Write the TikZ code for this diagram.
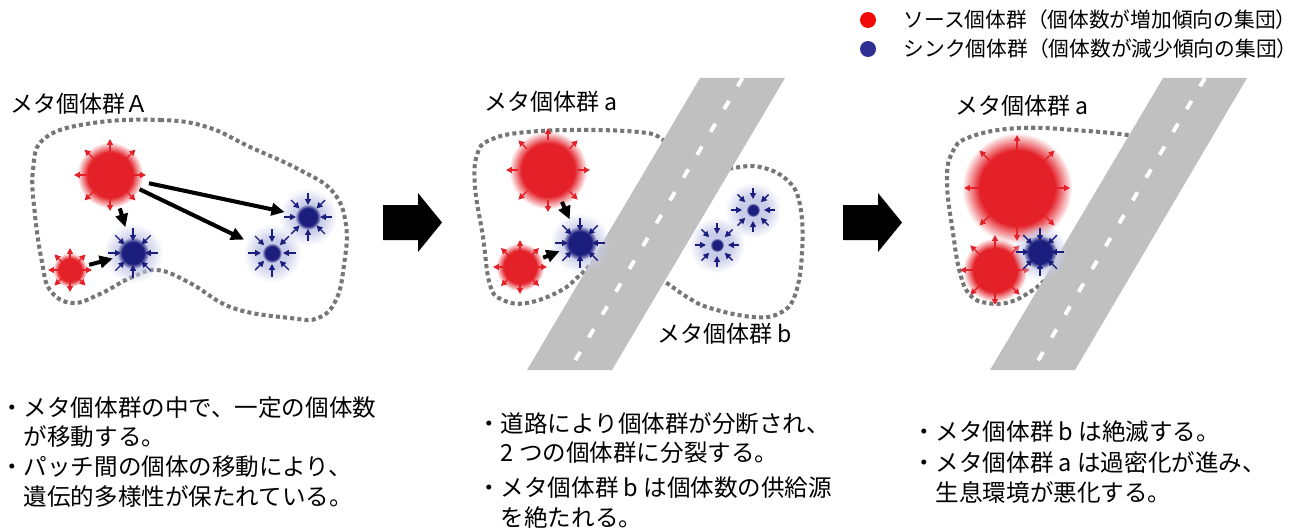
\documentclass[tikz,border=0pt]{standalone}
\usepackage{fontspec}
\setmainfont{Noto Sans CJK JP}
\usepackage{xcolor}
\usepackage{tikz}
\usetikzlibrary{arrows.meta,positioning,calc,fadings}

\definecolor{srcred}{RGB}{228,32,40}
\definecolor{sinkblue}{RGB}{28,30,125}
\definecolor{sinkhalo}{RGB}{200,204,232}
\definecolor{roadgray}{RGB}{192,192,192}
\definecolor{patchgray}{RGB}{118,118,118}
\definecolor{legendred}{RGB}{240,10,10}
\definecolor{legendblue}{RGB}{48,48,148}

% soft edges for the populations (white = opaque, black = clear)
\pgfdeclareradialshading{softdisc}{\pgfpointorigin}{color(0bp)=(white); color(17bp)=(white); color(25bp)=(black); color(50bp)=(black)}
\pgfdeclarefading{softdisc}{\pgfuseshading{softdisc}}
\pgfdeclareradialshading{softhalo}{\pgfpointorigin}{color(0bp)=(white); color(12bp)=(white); color(25bp)=(black); color(50bp)=(black)}
\pgfdeclarefading{softhalo}{\pgfuseshading{softhalo}}

\tikzset{
  patch/.style={draw=patchgray, line width=2.3pt, dash pattern=on 2.3pt off 1.8pt},
  road/.style={fill=roadgray},
  lane/.style={draw=white, line width=2.2pt, dash pattern=on 5.5pt off 9.6pt},
  srcarrow/.style={draw=srcred, line width=0.8pt, -{Triangle[length=3.4pt,width=3.4pt]}},
  sinkarrow/.style={draw=sinkblue, line width=0.8pt, -{Triangle[length=3.4pt,width=3.4pt]}},
  move/.style={draw=black, line width=2.3pt, -{Triangle[length=7.5pt,width=7pt]}},
  hub/.style={circle, inner sep=0pt, draw=none},
  grouplabel/.style={inner sep=0pt, anchor=west, font=\fontsize{13.1pt}{15pt}\selectfont},
  memo/.style={inner sep=0pt, anchor=north west, align=left, font=\fontsize{13.4pt}{16.9pt}\selectfont},
  legendtext/.style={inner sep=0pt, font=\fontsize{11.8pt}{14pt}\selectfont},
  legenddot/.style={circle, inner sep=0pt, minimum size=0.32cm},
}

% source: red disc, arrows pointing out
\newcommand{\SourcePatch}[5]{%
  \node[hub, minimum size={0.04cm*#5}] (#1) at #2 {};
  \fill[srcred, path fading=softdisc] (#1.center) circle (#3);
  \foreach \a in {0,45,...,315}
    \draw[srcarrow] ($(#1.center)+(\a:#4)$) -- ($(#1.center)+(\a:#5)$);
}
% sink: blue core with halo, arrows pointing in
\newcommand{\SinkPatch}[6]{%
  \node[hub, minimum size={0.04cm*#5}] (#1) at #2 {};
  \fill[sinkhalo, path fading=softhalo] (#1.center) circle (#4);
  \fill[sinkblue, path fading=softdisc] (#1.center) circle (#3);
  \foreach \a in {0,45,...,315}
    \draw[sinkarrow] ($(#1.center)+(\a:#5)$) -- ($(#1.center)+(\a:#6)$);
}

\begin{document}
\begin{tikzpicture}[x=0.02cm, y=-0.02cm]
  \useasboundingbox (0,0) rectangle (1310,527);

  % legend
  \node[legenddot, fill=legendred] (dotsrc) at (868,20) {};
  \node[legenddot, fill=legendblue] (dotsink) at (868,49) {};
  \node[legendtext, right=0.54cm of dotsrc] (legsrc) {ソース個体群（個体数が増加傾向の集団）};
  \node[legendtext, right=0.54cm of dotsink] (legsink) {シンク個体群（個体数が減少傾向の集団）};

  % patch outlines
  \draw[patch] plot[smooth cycle, tension=0.7] coordinates {(93,123) (160,120) (207,127) (250,147) (300,170) (333,192) (346,225) (344,265) (336,300) (318,318) (290,318) (233,308) (190,283) (157,270) (130,278) (100,294) (72,303) (50,290) (42,262) (35,215) (33,170) (45,138)};
  \draw[patch] plot[smooth, tension=0.7] coordinates {(685,150) (663,140) (647,133) (593,130) (527,132) (490,140) (477,155) (475,187) (483,237) (490,285) (503,300) (527,303) (560,291) (580,275) (600,255)};
  \draw[patch] plot[smooth, tension=0.7] coordinates {(715,172) (733,168) (760,167) (787,180) (800,205) (802,253) (795,295) (780,313) (753,317) (710,308) (687,297) (665,282) (645,272)};
  \draw[patch] plot[smooth, tension=0.7] coordinates {(1150,138) (1128,135) (1087,131) (1020,128) (970,137) (952,153) (947,183) (953,233) (960,273) (970,295) (987,303) (1010,302) (1033,290) (1045,280) (1060,268)};

  % roads
  \fill[road] (700,78) -- (785,78) -- (612,370) -- (527,370) -- cycle;
  \draw[lane] (742.5,78) -- (569.5,370);
  \fill[road] (1163,78) -- (1247,78) -- (1075,370) -- (990,370) -- cycle;
  \draw[lane] (1205,78) -- (1032.5,370);

  % stage arrows
  \foreach \x in {383,843}
    \fill (\x,205) -- ++(35,0) -- ++(0,-12) -- ++(24,29.5) -- ++(-24,29.5) -- ++(0,-12) -- ++(-35,0) -- cycle;

  % metapopulation A
  \SourcePatch{srcA1}{(110,175)}{33}{23}{36}
  \SourcePatch{srcA2}{(70,270)}{17}{9}{22}
  \SinkPatch{sinkA1}{(133,253)}{16}{30}{25}{12}
  \SinkPatch{sinkA2}{(272,253)}{10}{29}{24}{11}
  \SinkPatch{sinkA3}{(308,217)}{13}{29}{24}{12}
  \draw[move, shorten <=19.8pt, shorten >=15.3pt] (srcA1.center) -- (sinkA1.center);
  \draw[move, shorten <=11.3pt, shorten >=11.9pt] (srcA2.center) -- (sinkA1.center);
  \draw[move, shorten <=22.7pt, shorten >=13.6pt] (srcA1.center) -- (sinkA3.center);
  \draw[move, shorten <=18.7pt, shorten >=17.6pt] (srcA1.center) -- (sinkA2.center);

  % split by the road
  \SourcePatch{srcB1}{(548,170)}{39}{30}{42}
  \SourcePatch{srcB2}{(520,267)}{24}{15}{27}
  \SinkPatch{sinkB1}{(580,243)}{17}{30}{25}{12}
  \SinkPatch{sinkB2}{(753,210)}{7}{28}{22}{11}
  \SinkPatch{sinkB3}{(717,245)}{7}{28}{22}{11}
  \draw[move, shorten <=19.8pt, shorten >=14.7pt] (srcB1.center) -- (sinkB1.center);
  \draw[move, shorten <=14.2pt, shorten >=12.5pt] (srcB2.center) -- (sinkB1.center);

  % crowded a
  \SourcePatch{srcC1}{(1017,188)}{55}{37}{53}
  \SourcePatch{srcC2}{(995,270)}{32}{15}{35}
  \SinkPatch{sinkC1}{(1040,252)}{17}{28}{24}{11}

  % labels
  \node[grouplabel] (nameA) at (10,104) {メタ個体群Ａ};
  \node[grouplabel] (nameBa) at (484,102) {メタ個体群 a};
  \node[grouplabel] (nameBb) at (657,334) {メタ個体群 b};
  \node[grouplabel] (nameCa) at (955,106) {メタ個体群 a};

  \node[memo] (memoA) at (0,396) {・メタ個体群の中で、一定の個体数\\\phantom{・}が移動する。\\・パッチ間の個体の移動により、\\\phantom{・}遺伝的多様性が保たれている。};
  \node[memo] (memoB) at (477,412) {・道路により個体群が分断され、\\\phantom{・}2 つの個体群に分裂する。\\[3pt]・メタ個体群 b は個体数の供給源\\\phantom{・}を絶たれる。};
  \node[memo] (memoC) at (912,420) {・メタ個体群 b は絶滅する。\\[1pt]・メタ個体群 a は過密化が進み、\\\phantom{・}生息環境が悪化する。};
\end{tikzpicture}
\end{document}
